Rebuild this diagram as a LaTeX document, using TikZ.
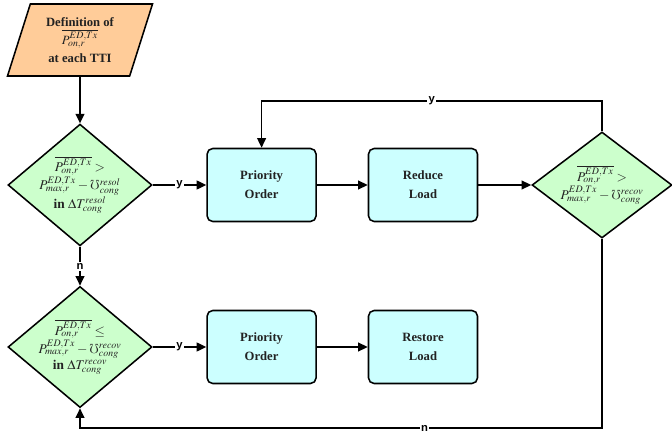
\documentclass[tikz,border=0pt]{standalone}
\usepackage{mathptmx}
\usepackage{amssymb}
\usepackage[no-math]{fontspec}
\setmainfont{Liberation Serif}
\newfontfamily\flagfont{Liberation Sans}
\usetikzlibrary{arrows.meta,shapes.geometric}
\definecolor{peach}{HTML}{FFCC99}
\definecolor{mint}{HTML}{CCFFCC}
\definecolor{aqua}{HTML}{CCFFFF}
\definecolor{ink}{HTML}{222222}
\tikzset{
  datain/.style={
    trapezium,
    trapezium left angle=63.4,
    trapezium right angle=116.6,
    trapezium stretches body,
    draw=black,
    fill=peach,
    line width=1.1pt,
    minimum height=1.8cm,
    minimum width=3.625cm,
    inner sep=0pt,
    text=ink,
    font=\bfseries\fontsize{9}{13}\selectfont,
    align=center
  },
  decision/.style={
    diamond,
    draw=black,
    fill=mint,
    line width=1.1pt,
    minimum width=3.6cm,
    minimum height=2.65cm,
    inner sep=-3pt,
    text=ink,
    font=\bfseries\fontsize{9.5}{11.5}\selectfont,
    align=center
  },
  process/.style={
    rectangle,
    rounded corners=4pt,
    draw=black,
    fill=aqua,
    line width=1.1pt,
    minimum width=2.725cm,
    minimum height=1.825cm,
    text=ink,
    font=\bfseries\fontsize{9}{13.5}\selectfont,
    align=center
  },
  arrow/.style={
    -{Triangle[length=2.4mm,width=2.2mm]},
    draw=black,
    line width=1.1pt
  },
  flag/.style={
    fill=white,
    inner sep=1pt,
    text=black,
    font=\flagfont\bfseries\fontsize{8}{9}\selectfont
  }
}

\begin{document}
\begin{tikzpicture}
  \useasboundingbox (0,0) rectangle (16.8,-10.8);

  \node[datain] (define) at (2.0,-1.0)
    {Definition of\\ $\overline{P^{ED,Tx}_{on,r}}$\\ at each TTI};

  \node[decision] (congest) at (2.0,-4.625)
    {$\overline{P^{ED,Tx}_{on,r}} >$\\
     $P^{ED,Tx}_{max,r} - \mho^{resol}_{cong}$\\
     in $\Delta T^{resol}_{cong}$};
  \node[decision] (relief) at (2.0,-8.675)
    {$\overline{P^{ED,Tx}_{on,r}} \leq$\\
     $P^{ED,Tx}_{max,r} - \mho^{recov}_{cong}$\\
     in $\Delta T^{recov}_{cong}$};
  \node[decision, minimum width=3.5cm] (still) at (15.05,-4.625)
    {$\overline{P^{ED,Tx}_{on,r}} >$\\
     $P^{ED,Tx}_{max,r} - \mho^{recov}_{cong}$};

  \node[process] (orderup) at (6.54,-4.625) {Priority\\Order};
  \node[process] (reduce) at (10.575,-4.625) {Reduce\\Load};
  \node[process] (orderdown) at (6.54,-8.675) {Priority\\Order};
  \node[process] (restore) at (10.575,-8.675) {Restore\\Load};

  \coordinate (topline) at (0,-2.525);
  \coordinate (botline) at (0,-10.7);

  \draw[arrow] (define) -- (congest);
  \draw[arrow] (congest) -- node[flag] {y} (orderup);
  \draw[arrow] (orderup) -- (reduce);
  \draw[arrow] (reduce) -- (still);
  \draw[arrow] (congest) -- node[flag] {n} (relief);
  \draw[arrow] (relief) -- node[flag] {y} (orderdown);
  \draw[arrow] (orderdown) -- (restore);

  \draw[arrow] (still.north) -- (still.north |- topline)
    -- node[flag] {y} (orderup.north |- topline) -- (orderup.north);
  \draw[arrow] (still.south) -- (still.south |- botline)
    -- node[flag, pos=0.34] {n} (relief.south |- botline) -- (relief.south);
\end{tikzpicture}
\end{document}
